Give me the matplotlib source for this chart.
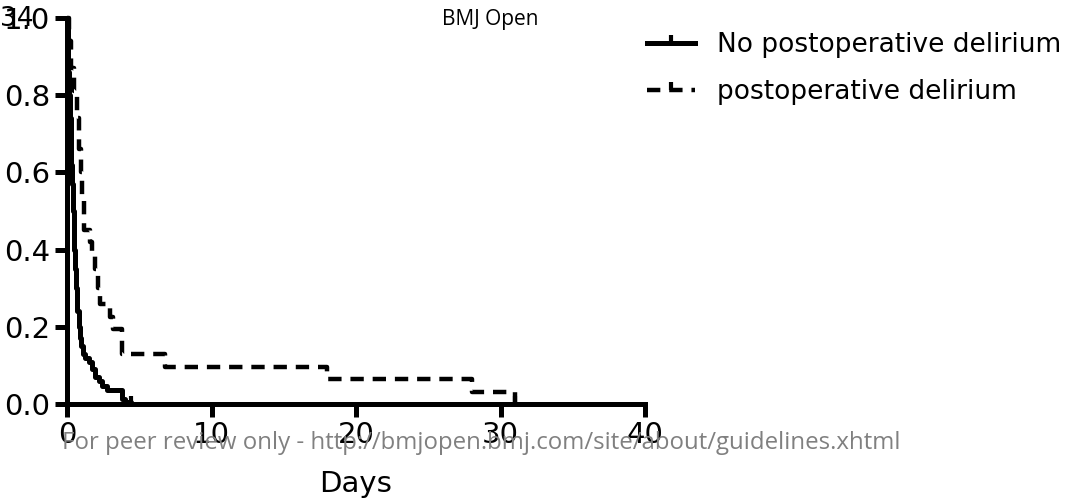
import matplotlib.pyplot as plt

plt.rcParams['font.family'] = ['DejaVu Sans']

# Kaplan-Meier style step curves (days, proportion)
no_delirium_t = [0, 0.05, 0.1, 0.15, 0.2, 0.25, 0.3, 0.35, 0.4, 0.45, 0.5, 0.55, 0.6, 0.7,
                 0.8, 0.9, 1.0, 1.1, 1.25, 1.5, 1.7, 1.95, 2.2, 2.4, 2.8, 3.8, 4.0, 4.4]
no_delirium_s = [1.0, 0.93, 0.86, 0.8, 0.74, 0.68, 0.62, 0.57, 0.5, 0.45, 0.4, 0.35, 0.3, 0.24,
                 0.2, 0.17, 0.15, 0.13, 0.12, 0.11, 0.09, 0.07, 0.06, 0.047, 0.035, 0.013, 0.005, 0.0]

delirium_t = [0, 0.15, 0.3, 0.5, 0.7, 0.85, 0.95, 1.05, 1.15, 1.6, 1.75, 1.95, 2.15, 2.3,
              3.0, 3.15, 3.8, 6.8, 18.0, 28.0, 31.0]
delirium_s = [1.0, 0.94, 0.87, 0.81, 0.74, 0.66, 0.6, 0.53, 0.45, 0.42, 0.39, 0.35, 0.3, 0.26,
              0.226, 0.194, 0.129, 0.097, 0.065, 0.032, 0.0]

x_ticks = [0, 10, 20, 30, 40]
y_ticks = [0.0, 0.2, 0.4, 0.6, 0.8, 1.0]

W, H = 1078, 501
fig = plt.figure(figsize=(W / 100, H / 100), dpi=100)
ax = fig.add_axes([67 / W, 1 - 404 / H, (645 - 67) / W, (404 - 18) / H])

ax.plot(no_delirium_t, no_delirium_s, drawstyle='steps-post', color='black', lw=3.6,
        marker=2, markevery=[len(no_delirium_t) - 1], markersize=6, markeredgewidth=3,
        label='No postoperative delirium', clip_on=False)
ax.plot(delirium_t, delirium_s, drawstyle='steps-post', color='black', lw=3.2, ls=(0, (3, 2)),
        marker=2, markevery=[len(delirium_t) - 1], markersize=6, markeredgewidth=3,
        label='postoperative delirium', clip_on=False)

ax.set_xlim(0, 40)
ax.set_ylim(0, 1.0)
ax.set_xticks(x_ticks)
ax.set_yticks(y_ticks)
ax.set_yticklabels([f'{v:.1f}' for v in y_ticks])
ax.tick_params(direction='out', length=9, width=3.6, labelsize=21, pad=3)
for side in ['top', 'right']:
    ax.spines[side].set_visible(False)
for side in ['left', 'bottom']:
    ax.spines[side].set_linewidth(3.6)
ax.set_xlabel('Days', fontsize=21, labelpad=15)

leg = fig.legend(loc='upper left', bbox_to_anchor=(647 / W, 1 - 32 / H), frameon=False,
                 fontsize=19, handlelength=1.82, handletextpad=0.83, labelspacing=0.79,
                 borderpad=0, borderaxespad=0)

fig.text(490 / W, 1 - 20 / H, 'BMJ Open', fontsize=15, ha='center', va='center',
         family=['Open Sans', 'DejaVu Sans'])
fig.text(0 / W, 1 - 19 / H, '34', fontsize=19, ha='left', va='center')
fig.text(62 / W, 1 - 443 / H,
         'For peer review only - http://bmjopen.bmj.com/site/about/guidelines.xhtml',
         fontsize=17.3, color='#808080', ha='left', va='center',
         family=['Open Sans', 'DejaVu Sans'])

fig.savefig('out.png', dpi=100)
